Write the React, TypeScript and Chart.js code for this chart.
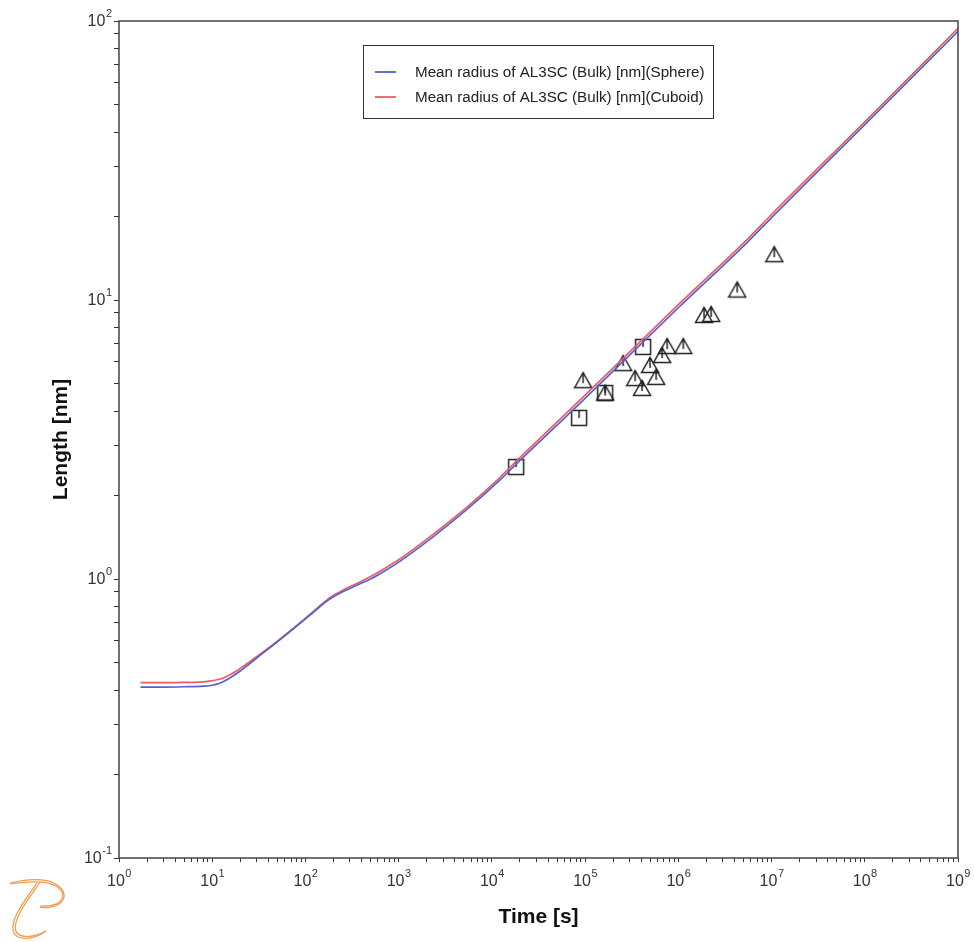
import React, { useEffect, useRef } from 'react';
import { Chart, registerables } from 'chart.js';

Chart.register(...registerables);

// ---- data ----
const timeS = [1.7, 3, 5, 8, 10, 12, 15, 20, 30, 50, 80, 120, 170, 200, 260, 350, 500, 700, 1000, 2300, 5400, 12000, 18000, 1e5, 1e6, 5.6e6, 1e7, 1e8, 1e9];
const sphereNm = [0.41, 0.41, 0.411, 0.413, 0.416, 0.423, 0.439, 0.468, 0.521, 0.595, 0.676, 0.757, 0.834, 0.864, 0.905, 0.948, 1.0, 1.066, 1.149, 1.41, 1.775, 2.25, 2.57, 4.44, 9.38, 16.2, 19.75, 42.5, 91.9];
const cuboidNm = [0.425, 0.425, 0.426, 0.428, 0.432, 0.437, 0.451, 0.478, 0.527, 0.599, 0.68, 0.763, 0.842, 0.874, 0.917, 0.962, 1.02, 1.088, 1.172, 1.44, 1.81, 2.3, 2.63, 4.56, 9.62, 16.6, 20.25, 43.5, 94.1];

const squareTime = [18200, 86200, 164000, 419000];
const squareLen = [2.52, 3.78, 4.64, 6.79];

const triangleTime = [95300, 164000, 256000, 344000, 408000, 498000, 578000, 670000, 759000, 1.13e6, 1.89e6, 2.25e6, 4.28e6, 1.07e7];
const triangleLen = [5.16, 4.66, 5.94, 5.25, 4.84, 5.85, 5.3, 6.35, 6.84, 6.84, 8.84, 8.91, 10.9, 14.6];

const seriesLabels = ['Mean radius of AL3SC (Bulk) [nm](Sphere)', 'Mean radius of AL3SC (Bulk) [nm](Cuboid)'];
const xDecades = [0, 1, 2, 3, 4, 5, 6, 7, 8, 9];
const yDecades = [-1, 0, 1, 2];
const xTitle = 'Time [s]';
const yTitle = 'Length [nm]';

const BLUE = '#5563cc';
const RED = '#ee5b66';
const FONT = '"Liberation Sans", Arial, Helvetica, sans-serif';

function logTicks(lo: number, hi: number) {
  const out: { value: number }[] = [];
  for (let e = lo; e < hi; e++) {
    for (let k = 1; k <= 9; k++) out.push({ value: k * Math.pow(10, e) });
  }
  out.push({ value: Math.pow(10, hi) });
  return out;
}

function makeMarker(kind: 'square' | 'triangle') {
  const c = document.createElement('canvas');
  c.width = 20;
  c.height = 20;
  const g = c.getContext('2d')!;
  g.strokeStyle = '#222';
  g.lineWidth = 1.5;
  g.lineJoin = 'miter';
  if (kind === 'square') {
    g.strokeRect(2.5, 2.5, 15, 15);
    g.beginPath();
    g.moveTo(10, 2.5);
    g.lineTo(10, 10);
    g.stroke();
  } else {
    g.beginPath();
    g.moveTo(10, 2.5);
    g.lineTo(18.5, 17.5);
    g.lineTo(1.5, 17.5);
    g.closePath();
    g.stroke();
    g.beginPath();
    g.moveTo(10, 2.5);
    g.lineTo(10, 13);
    g.stroke();
    g.fillStyle = '#222';
    g.beginPath();
    g.arc(10, 4, 1.3, 0, Math.PI * 2);
    g.fill();
  }
  return c;
}

const decorPlugin = {
  id: 'decor',
  afterDraw(chart: any) {
    const ctx: CanvasRenderingContext2D = chart.ctx;
    const { left, right, top, bottom } = chart.chartArea;
    const xs = chart.scales.x;
    const ys = chart.scales.y;
    ctx.save();
    // frame
    ctx.strokeStyle = '#444';
    ctx.lineWidth = 1.5;
    ctx.strokeRect(left, top, right - left, bottom - top);

    // tick labels
    ctx.fillStyle = '#333';
    ctx.textBaseline = 'alphabetic';
    const big = `16px ${FONT}`;
    const small = `11px ${FONT}`;
    xDecades.forEach((e) => {
      const px = xs.getPixelForValue(Math.pow(10, e));
      ctx.font = big;
      const w1 = ctx.measureText('10').width;
      ctx.font = small;
      const es = String(e);
      const w2 = ctx.measureText(es).width;
      const x0 = px - (w1 + w2) / 2;
      ctx.textAlign = 'left';
      ctx.font = big;
      ctx.fillText('10', x0, 886);
      ctx.font = small;
      ctx.fillText(es, x0 + w1 + 0.5, 877);
    });
    yDecades.forEach((e) => {
      const py = ys.getPixelForValue(Math.pow(10, e));
      const es = String(e);
      ctx.font = small;
      const w2 = ctx.measureText(es).width;
      ctx.font = big;
      const w1 = ctx.measureText('10').width;
      const xr = left - 7;
      ctx.textAlign = 'left';
      ctx.fillText('10', xr - w2 - 0.5 - w1, py + 5);
      ctx.font = small;
      ctx.fillText(es, xr - w2, py - 4);
    });

    // axis titles
    ctx.fillStyle = '#111';
    ctx.font = `bold 21px ${FONT}`;
    ctx.textAlign = 'center';
    ctx.textBaseline = 'middle';
    ctx.fillText(xTitle, (left + right) / 2, 917);
    ctx.save();
    ctx.translate(61, (top + bottom) / 2);
    ctx.rotate(-Math.PI / 2);
    ctx.fillText(yTitle, 0, 0);
    ctx.restore();

    // legend
    const lx = 363, ly = 45, lw = 350, lh = 73;
    ctx.fillStyle = '#fff';
    ctx.fillRect(lx, ly, lw, lh);
    ctx.strokeStyle = '#333';
    ctx.lineWidth = 1;
    ctx.strokeRect(lx + 0.5, ly + 0.5, lw, lh);
    const rows = [72, 97];
    [0, 1].forEach((i) => {
      const ds = chart.data.datasets[i];
      ctx.strokeStyle = ds.borderColor;
      ctx.lineWidth = 1.8;
      ctx.beginPath();
      ctx.moveTo(375, rows[i]);
      ctx.lineTo(396, rows[i]);
      ctx.stroke();
      ctx.fillStyle = '#222';
      ctx.font = `15.2px ${FONT}`;
      ctx.textAlign = 'left';
      ctx.textBaseline = 'middle';
      ctx.fillText(ds.label, 415, rows[i] + 0.5);
    });

    // logo
    ctx.strokeStyle = '#f29a45';
    ctx.lineWidth = 1.2;
    for (const d of [0, 2.5]) {
      ctx.beginPath();
      ctx.moveTo(10, 884 - d * 0.4);
      ctx.bezierCurveTo(30, 881 - d, 55, 879 - d, 62 + d * 0.6, 892);
      ctx.bezierCurveTo(66 + d * 0.6, 903 + d * 0.4, 52, 907 + d * 0.6, 40, 906 + d * 0.6);
      ctx.stroke();
      ctx.beginPath();
      ctx.moveTo(37 + d, 883);
      ctx.bezierCurveTo(25 + d, 900, 11 + d, 918, 13 + d, 930);
      ctx.bezierCurveTo(15 + d, 941 - d, 32, 941 - d, 46, 931);
      ctx.stroke();
    }
    ctx.restore();
  },
};

export default function App() {
  const ref = useRef<HTMLCanvasElement | null>(null);
  useEffect(() => {
    document.body.style.margin = '0';
    document.body.style.overflow = 'hidden';
    const sq = makeMarker('square');
    const tri = makeMarker('triangle');
    const chart = new Chart(ref.current!, {
      type: 'scatter',
      data: {
        datasets: [
          {
            type: 'line',
            label: seriesLabels[0],
            data: timeS.map((t, i) => ({ x: t, y: sphereNm[i] })),
            borderColor: BLUE,
            borderWidth: 1.7,
            pointRadius: 0,
            cubicInterpolationMode: 'monotone',
            fill: false,
          } as any,
          {
            type: 'line',
            label: seriesLabels[1],
            data: timeS.map((t, i) => ({ x: t, y: cuboidNm[i] })),
            borderColor: RED,
            borderWidth: 1.7,
            pointRadius: 0,
            cubicInterpolationMode: 'monotone',
            fill: false,
          } as any,
          {
            label: 'squares',
            data: squareTime.map((t, i) => ({ x: t, y: squareLen[i] })),
            pointStyle: sq as any,
            pointRadius: 9,
            showLine: false,
          } as any,
          {
            label: 'triangles',
            data: triangleTime.map((t, i) => ({ x: t, y: triangleLen[i] })),
            pointStyle: tri as any,
            pointRadius: 9,
            showLine: false,
          } as any,
        ],
      },
      options: {
        responsive: false,
        animation: false,
        layout: { padding: { top: 21, right: 16, left: 0, bottom: 0 } },
        plugins: { legend: { display: false }, tooltip: { enabled: false } },
        scales: {
          x: {
            type: 'logarithmic',
            min: 1,
            max: 1e9,
            afterBuildTicks: (s: any) => { s.ticks = logTicks(0, 9); },
            afterFit: (s: any) => { s.height = 84; },
            ticks: { display: false },
            grid: { drawOnChartArea: false, drawTicks: true, tickLength: 4, tickColor: '#333', lineWidth: 1 },
            border: { display: false },
          },
          y: {
            type: 'logarithmic',
            min: 0.1,
            max: 100,
            afterBuildTicks: (s: any) => { s.ticks = logTicks(-1, 2); },
            afterFit: (s: any) => { s.width = 119; },
            ticks: { display: false },
            grid: { drawOnChartArea: false, drawTicks: true, tickLength: 5, tickColor: '#333', lineWidth: 1 },
            border: { display: false },
          },
        },
      } as any,
      plugins: [decorPlugin],
    });
    return () => chart.destroy();
  }, []);
  return <canvas ref={ref} width={974} height={942} style={{ display: 'block' }} />;
}
